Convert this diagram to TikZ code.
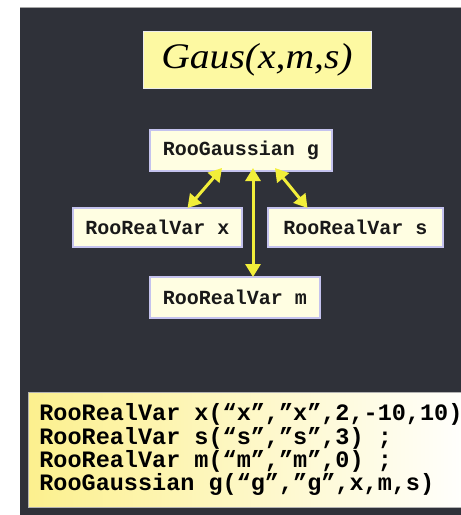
\documentclass[tikz,border=0pt]{standalone}
\usepackage{fontspec}
\setmainfont{Liberation Serif}
\setmonofont{Liberation Mono}
\usetikzlibrary{arrows.meta}
\definecolor{bgdark}{HTML}{2F3139}
\definecolor{titlefill}{HTML}{FDF9A2}
\definecolor{nodefill}{HTML}{FFFEE2}
\definecolor{nodeborder}{HTML}{C4C2EE}
\definecolor{arrowyel}{HTML}{F2EE3A}
\definecolor{codeyel}{HTML}{FCF08E}
\tikzset{
  varbox/.style={draw=nodeborder, line width=2pt, fill=nodefill, inner sep=0pt,
    font=\fontsize{20}{22}\selectfont\ttfamily\bfseries, text=black!90},
  link/.style={draw=arrowyel, line width=3pt, {Triangle[length=13pt,width=15pt]}-{Triangle[length=13pt,width=15pt]}},
}
\begin{document}
\begin{tikzpicture}[x=1pt,y=-1pt]
\useasboundingbox (0,0) rectangle (461,515);
\fill[white] (0,0) rectangle (461,515);
\fill[bgdark] (20,7) rectangle (461,515);
\draw[gray!70, line width=1pt] (20,7) -- (461,7);
% title
\node[fill=titlefill, draw=white!85!gray, line width=0.6pt, minimum width=228pt, minimum height=57pt, inner sep=0pt,
  font=\fontsize{36}{40}\selectfont\itshape] (title) at (257,59.5) {\scalebox{1.1}[1]{Gaus(x,m,s)}};
% nodes
\node[varbox, minimum width=182pt, minimum height=41pt] (g) at (241,150.5) {RooGaussian g};
\node[varbox, minimum width=169pt, minimum height=39pt] (x) at (157.5,227.5) {RooRealVar x};
\node[varbox, minimum width=175pt, minimum height=39pt] (s) at (355.5,227.5) {RooRealVar s};
\node[varbox, minimum width=170pt, minimum height=41pt] (m) at (235,297.5) {RooRealVar m};
% connectors
\draw[link] ([xshift=30pt,yshift=-1pt]x.north) -- ([xshift=-19pt,yshift=4pt]g.south);
\draw[link] ([xshift=18pt,yshift=-1pt]m.north) -- ([xshift=12pt,yshift=4pt]g.south);
\draw[link] ([xshift=-48pt,yshift=-1pt]s.north) -- ([xshift=34pt,yshift=4pt]g.south);
% code box
\node[anchor=north west, draw=gray!60, line width=0.8pt, left color=codeyel, right color=white,
  minimum width=445pt, minimum height=115pt, inner xsep=11pt, inner ysep=0pt, align=left,
  font=\fontsize{23.5}{23.3}\selectfont\ttfamily\bfseries, text=black] (code) at (28,392)
{RooRealVar x(“x”,”x”,2,-10,10)\\
RooRealVar s(“s”,”s”,3) ;\\
RooRealVar m(“m”,”m”,0) ;\\
RooGaussian g(“g”,”g”,x,m,s)};
\end{tikzpicture}
\end{document}
